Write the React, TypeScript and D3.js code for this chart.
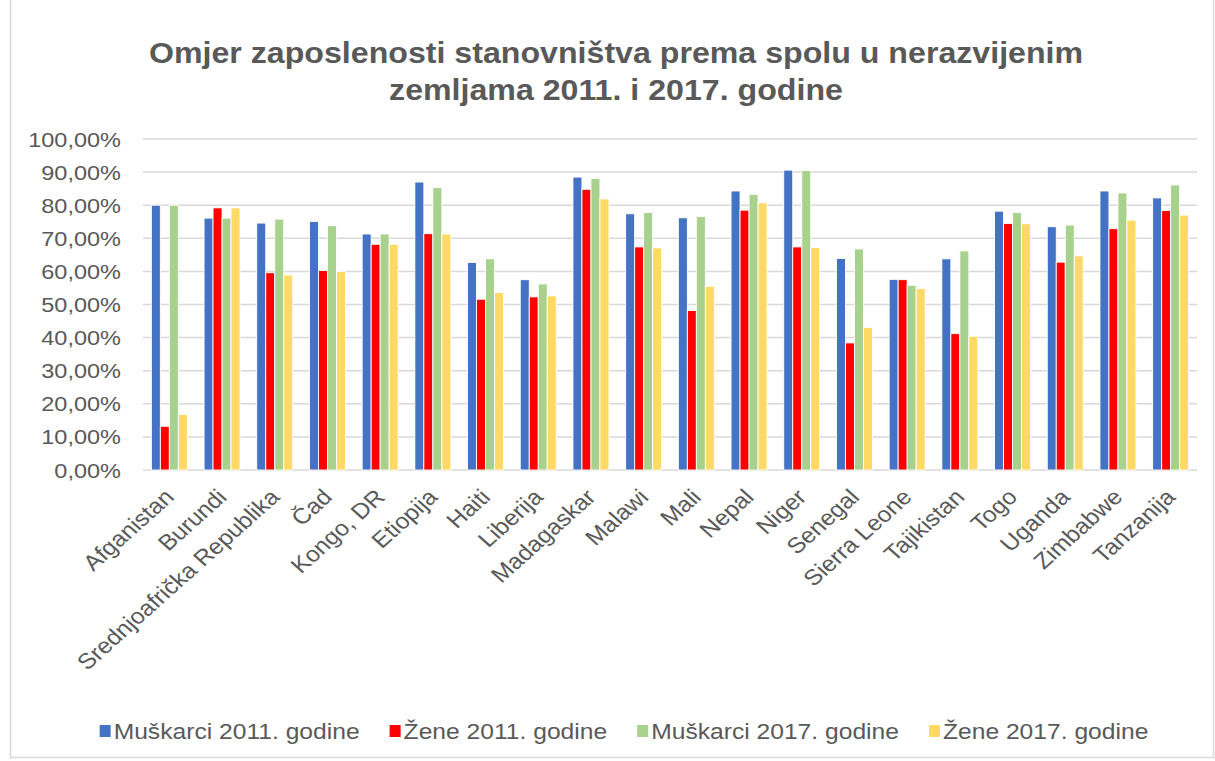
import React, { useEffect, useRef } from 'react';
import * as d3 from 'd3';

const countries = [
  'Afganistan', 'Burundi', 'Srednjoafrička Republika', 'Čad', 'Kongo, DR', 'Etiopija', 'Haiti',
  'Liberija', 'Madagaskar', 'Malawi', 'Mali', 'Nepal', 'Niger', 'Senegal', 'Sierra Leone',
  'Tajikistan', 'Togo', 'Uganda', 'Zimbabwe', 'Tanzanija',
];

const seriesNames = ['Muškarci 2011. godine', 'Žene 2011. godine', 'Muškarci 2017. godine', 'Žene 2017. godine'];
const seriesColors = ['#4472C4', '#FF0000', '#A9D18E', '#FFD966'];

// values in %
const men2011 = [80.0, 76.1, 74.6, 75.1, 71.3, 87.0, 62.7, 57.5, 88.5, 77.4, 76.2, 84.3, 90.6, 63.9, 57.6, 63.8, 78.2, 73.5, 84.3, 82.2];
const women2011 = [13.2, 79.2, 59.6, 60.3, 68.2, 71.4, 51.6, 52.3, 84.8, 67.4, 48.2, 78.5, 67.4, 38.4, 57.5, 41.2, 74.5, 62.8, 72.9, 78.4];
const men2017 = [80.0, 76.1, 75.8, 73.8, 71.3, 85.3, 63.8, 56.2, 88.1, 77.8, 76.6, 83.3, 90.5, 66.8, 55.8, 66.2, 77.8, 74.0, 83.7, 86.1];
const women2017 = [16.8, 79.2, 58.9, 60.0, 68.2, 71.3, 53.6, 52.6, 81.9, 67.1, 55.5, 80.7, 67.2, 43.1, 54.8, 40.4, 74.4, 64.7, 75.5, 77.0];

const yTicks = [0, 10, 20, 30, 40, 50, 60, 70, 80, 90, 100];

const W = 1215;
const H = 761;
const SX = 1.12; // the reference text is a bit wider than tall
const TEXT = '#595959';
const FONT = '"Liberation Sans", Arial, sans-serif';

export default function App() {
  const svgRef = useRef<SVGSVGElement>(null);

  useEffect(() => {
    if (!svgRef.current) return;
    const svg = d3.select(svgRef.current);
    svg.selectAll('*').remove();

    const allSeries = [men2011, women2011, men2017, women2017];
    const plot = { left: 143, right: 1197, top: 139, bottom: 470 };

    // chart border
    svg.append('rect')
      .attr('x', 10.5).attr('y', -2)
      .attr('width', W - 12).attr('height', H - 1.5)
      .attr('fill', 'white')
      .attr('stroke', '#d9d9d9')
      .attr('stroke-width', 1.5);

    // title
    const title = ['Omjer zaposlenosti stanovništva prema spolu u nerazvijenim', 'zemljama 2011. i 2017. godine'];
    title.forEach((t, i) => {
      svg.append('text')
        .attr('transform', `translate(616,${63 + i * 37}) scale(${SX},1)`)
        .attr('text-anchor', 'middle')
        .style('font-family', FONT)
        .style('font-size', '28.7px')
        .style('font-weight', 'bold')
        .style('fill', TEXT)
        .text(t);
    });

    const x = d3.scaleBand<string>()
      .domain(countries)
      .range([plot.left, plot.right])
      .paddingInner(0.317)
      .paddingOuter(0.1585);

    const xs = d3.scaleBand<number>()
      .domain(d3.range(4))
      .range([0, x.bandwidth()])
      .padding(0);

    const y = d3.scaleLinear().domain([0, 100]).range([plot.bottom, plot.top]);

    // gridlines
    svg.append('g')
      .selectAll('line')
      .data(yTicks)
      .join('line')
      .attr('x1', plot.left).attr('x2', plot.right)
      .attr('y1', d => y(d)).attr('y2', d => y(d))
      .attr('stroke', '#d9d9d9')
      .attr('stroke-width', 1.5);

    // y tick labels
    const fmt = (v: number) => v.toFixed(2).replace('.', ',') + '%';
    svg.append('g')
      .selectAll('text')
      .data(yTicks)
      .join('text')
      .attr('transform', d => `translate(121,${y(d) + 7.5}) scale(${SX},1)`)
      .attr('text-anchor', 'end')
      .style('font-family', FONT)
      .style('font-size', '21px')
      .style('fill', TEXT)
      .text(d => fmt(d));

    // bars
    allSeries.forEach((vals, si) => {
      svg.append('g')
        .selectAll('rect')
        .data(vals)
        .join('rect')
        .attr('x', (_, i) => (x(countries[i]) as number) + (xs(si) as number))
        .attr('y', d => y(d))
        .attr('width', xs.bandwidth())
        .attr('height', d => y(0) - y(d))
        .attr('fill', seriesColors[si])
        .attr('stroke', 'white')
        .attr('stroke-width', 0.9);
    });

    // x labels
    svg.append('g')
      .selectAll('text')
      .data(countries)
      .join('text')
      .attr('transform', d => `translate(${(x(d) as number) + x.bandwidth() / 2},${plot.bottom + 23}) scale(${SX},1) rotate(-45)`)
      .attr('text-anchor', 'end')
      .attr('dy', '0.35em')
      .style('font-family', FONT)
      .style('font-size', '22px')
      .style('fill', TEXT)
      .text(d => d);

    // legend
    const legend = svg.append('g');
    const items = seriesNames.map((name, i) => {
      const g = legend.append('g');
      g.append('rect')
        .attr('x', 0).attr('y', -6)
        .attr('width', 11).attr('height', 12)
        .attr('fill', seriesColors[i]);
      const t = g.append('text')
        .attr('transform', `translate(14,8) scale(${SX},1)`)
        .style('font-family', FONT)
        .style('font-size', '22px')
        .style('fill', TEXT)
        .text(name);
      const w = 14 + (t.node() as SVGTextElement).getComputedTextLength() * SX;
      return { g, w };
    });
    const gap = 30;
    const total = d3.sum(items, d => d.w) + gap * (items.length - 1);
    let cx = 624 - total / 2;
    items.forEach(it => {
      it.g.attr('transform', `translate(${cx},731)`);
      cx += it.w + gap;
    });
  }, []);

  return (
    <div style={{ position: 'fixed', left: 0, top: 0 }}>
      <svg ref={svgRef} width={W} height={H} style={{ display: 'block' }} />
    </div>
  );
}
